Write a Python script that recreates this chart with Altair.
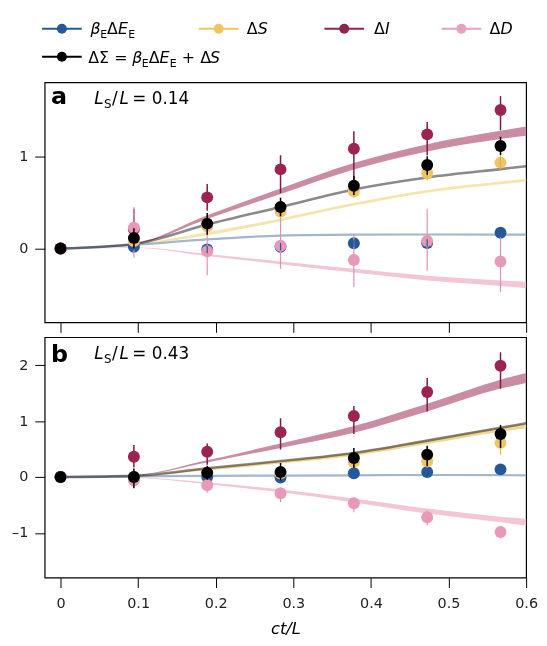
import altair as alt
import pandas as pd

FONT = "DejaVu Sans"

# ---------------- data ----------------
X_PTS = [0.0, 0.0945, 0.189, 0.2835, 0.378, 0.4725, 0.567]
X_MODEL = [0.0, 0.0945, 0.189, 0.2835, 0.378, 0.4725, 0.567, 0.6]
X_TICKS = [0, 0.1, 0.2, 0.3, 0.4, 0.5, 0.6]

# panel a : L_S/L = 0.14
A_BETA = [0.0, 0.02, -0.01, 0.02, 0.057, 0.06, 0.17]
A_BETA_LO = [0.0, -0.02, -0.05, -0.02, 0.02, 0.02, 0.12]
A_BETA_HI = [0.0, 0.06, 0.03, 0.06, 0.095, 0.10, 0.22]
A_DS = [0.0, 0.08, 0.24, 0.40, 0.62, 0.815, 0.93]
A_DS_LO = [0.0, 0.02, 0.17, 0.33, 0.55, 0.74, 0.86]
A_DS_HI = [0.0, 0.14, 0.31, 0.47, 0.69, 0.89, 1.00]
A_DI = [0.0, 0.21, 0.554, 0.857, 1.08, 1.236, 1.50]
A_DI_LO = [0.0, 0.0, 0.41, 0.60, 0.74, 1.01, 1.28]
A_DI_HI = [0.0, 0.43, 0.70, 1.01, 1.27, 1.37, 1.65]
A_DD = [0.0, 0.225, -0.03, 0.03, -0.125, 0.082, -0.14]
A_DD_LO = [0.0, -0.10, -0.29, -0.22, -0.42, -0.24, -0.47]
A_DD_HI = [0.0, 0.45, 0.23, 0.33, 0.16, 0.43, 0.17]
A_SIG = [0.0, 0.115, 0.27, 0.45, 0.68, 0.905, 1.11]
A_SIG_LO = [0.0, 0.0, 0.15, 0.35, 0.58, 0.80, 1.01]
A_SIG_HI = [0.0, 0.22, 0.385, 0.55, 0.785, 1.00, 1.21]

A_BETA_LINE = [0.0, 0.04, 0.10, 0.14, 0.15, 0.152, 0.151, 0.15]
A_SIG_LINE = [0.0, 0.05, 0.26, 0.45, 0.64, 0.77, 0.86, 0.89]
A_DS_BAND_LO = [0.0, 0.035, 0.145, 0.295, 0.465, 0.605, 0.695, 0.725]
A_DS_BAND_HI = [0.0, 0.045, 0.175, 0.325, 0.495, 0.635, 0.725, 0.755]
A_DI_BAND_LO = [0.0, 0.045, 0.32, 0.59, 0.855, 1.05, 1.185, 1.22]
A_DI_BAND_HI = [0.0, 0.055, 0.36, 0.65, 0.925, 1.13, 1.275, 1.32]
A_DD_BAND_LO = [0.0, 0.007, -0.08, -0.17, -0.26, -0.345, -0.405, -0.43]
A_DD_BAND_HI = [0.0, 0.013, -0.06, -0.14, -0.22, -0.295, -0.345, -0.36]

# panel b : L_S/L = 0.43
B_BETA = [0.0, 0.0, 0.0, -0.01, 0.065, 0.088, 0.136]
B_BETA_LO = [0.0, -0.04, -0.04, -0.05, 0.025, 0.05, 0.10]
B_BETA_HI = [0.0, 0.04, 0.04, 0.03, 0.105, 0.125, 0.175]
B_DS = [0.0, 0.0, 0.08, 0.06, 0.265, 0.28, 0.61]
B_DS_LO = [0.0, -0.08, 0.0, -0.03, 0.16, 0.17, 0.40]
B_DS_HI = [0.0, 0.08, 0.16, 0.15, 0.37, 0.39, 0.80]
B_DI = [0.0, 0.36, 0.45, 0.80, 1.09, 1.52, 1.99]
B_DI_LO = [0.0, 0.17, 0.22, 0.49, 0.77, 1.17, 1.58]
B_DI_HI = [0.0, 0.57, 0.60, 1.05, 1.27, 1.77, 2.23]
B_DD = [0.0, -0.06, -0.147, -0.29, -0.47, -0.72, -0.985]
B_DD_LO = [0.0, -0.15, -0.28, -0.45, -0.63, -0.87, -1.10]
B_DD_HI = [0.0, 0.03, -0.03, -0.19, -0.37, -0.60, -0.88]
B_SIG = [0.0, 0.0, 0.077, 0.09, 0.34, 0.40, 0.77]
B_SIG_LO = [0.0, -0.20, -0.05, -0.06, 0.16, 0.19, 0.52]
B_SIG_HI = [0.0, 0.15, 0.20, 0.25, 0.52, 0.56, 0.93]

B_BETA_LINE = [0.0, 0.01, 0.02, 0.025, 0.03, 0.035, 0.032, 0.03]
B_SIG_LINE = [0.0, 0.02, 0.155, 0.285, 0.43, 0.65, 0.88, 0.96]
B_DS_BAND_LO = [0.0, 0.01, 0.12, 0.24, 0.38, 0.59, 0.81, 0.87]
B_DS_BAND_HI = [0.0, 0.02, 0.16, 0.29, 0.44, 0.66, 0.89, 0.96]
B_DI_BAND_LO = [0.0, 0.025, 0.26, 0.52, 0.79, 1.17, 1.58, 1.68]
B_DI_BAND_HI = [0.0, 0.035, 0.30, 0.60, 0.91, 1.31, 1.74, 1.86]
B_DD_BAND_LO = [0.0, -0.013, -0.13, -0.275, -0.455, -0.655, -0.81, -0.87]
B_DD_BAND_HI = [0.0, -0.007, -0.10, -0.225, -0.385, -0.565, -0.71, -0.75]

# ---------------- styling ----------------
C_BLUE, C_BLUE_LINE = "#245899", "#a3b7cb"
C_YEL, C_YEL_BAND_A, C_YEL_BAND_B = "#efc462", "#f4e4ae", "#f0d593"
C_DI, C_DI_BAR, C_DI_BAND = "#9b2452", "#7c1d40", "#c98ca3"
C_DD, C_DD_BAR, C_DD_BAND = "#e899b8", "#dc92b0", "#f2c6d4"
C_SIG_LINE = "#8a8a8a"

W = 486
H_A = 242.4
H_B = 242.7
XDOM = [-0.0205, 0.6]
ONE = pd.DataFrame({"k": [0]})


def txt(s, x, y, size, italic=False, bold=False):
    kw = dict(text=s, font=FONT, fontSize=size, align="left",
              baseline="alphabetic", color="black")
    if italic:
        kw["fontStyle"] = "italic"
    if bold:
        kw["fontWeight"] = "bold"
    return alt.Chart(ONE).mark_text(**kw).encode(x=alt.value(x), y=alt.value(y))


def panel(p, ydom, yvals, bottom, letter, ratio, letter_y, yel_band_color, h):
    xaxis = alt.Axis(values=X_TICKS, labels=bottom, labelFlush=False, format=".1~f",
                     title="ct/L" if bottom else None, titleFontStyle="italic",
                     titleFontWeight="normal", titleFontSize=16.5, titlePadding=11,
                     tickSize=10, labelPadding=9, domain=False, grid=False)
    yaxis = alt.Axis(values=yvals, title=None, tickSize=10, labelPadding=7,
                     domain=False, grid=False,
                     labelExpr="datum.value < 0 ? '\u2013' + abs(datum.value) : datum.label")
    X = alt.X("x:Q", scale=alt.Scale(domain=XDOM, nice=False, zero=False), axis=xaxis)
    ys = alt.Scale(domain=ydom, nice=False, zero=False)

    def Y(f):
        return alt.Y(f"{f}:Q", scale=ys, axis=yaxis)

    model = pd.DataFrame({
        "x": X_MODEL,
        "beta": p["beta_line"], "sig": p["sig_line"],
        "ds_lo": p["ds_band"][0], "ds_hi": p["ds_band"][1],
        "di_lo": p["di_band"][0], "di_hi": p["di_band"][1],
        "dd_lo": p["dd_band"][0], "dd_hi": p["dd_band"][1],
    })
    base = alt.Chart(model)
    layers = [
        base.mark_area(color=C_DD_BAND, interpolate="monotone").encode(x=X, y=Y("dd_lo"), y2="dd_hi"),
        base.mark_area(color=C_DI_BAND, interpolate="monotone").encode(x=X, y=Y("di_lo"), y2="di_hi"),
        base.mark_area(color=yel_band_color, interpolate="monotone").encode(x=X, y=Y("ds_lo"), y2="ds_hi"),
        base.mark_line(color=C_BLUE_LINE, strokeWidth=2.2, interpolate="monotone").encode(x=X, y=Y("beta")),
        base.mark_line(color=C_SIG_LINE, strokeWidth=2.6, interpolate="monotone",
                       blend="multiply").encode(x=X, y=Y("sig")),
    ]

    def pts(key):
        v, lo, hi = p[key]
        return alt.Chart(pd.DataFrame({"x": X_PTS, "v": v, "lo": lo, "hi": hi}))

    def dots(key, color):
        return pts(key).mark_circle(size=145, opacity=1, color=color).encode(x=X, y=Y("v"))

    def bars(key, color, w):
        return pts(key).mark_rule(color=color, strokeWidth=w).encode(x=X, y=Y("lo"), y2="hi")

    layers += [
        dots("beta", C_BLUE),
        dots("ds", C_YEL),
        bars("di", C_DI_BAR, 1.5),
        dots("di", C_DI),
        bars("dd", C_DD_BAR, 1.2),
        dots("dd", C_DD),
        bars("beta", C_BLUE, 1.2),
        bars("ds", "#e2b24a", 1.2),
        bars("sig", "black", 1.5),
        dots("sig", "black"),
    ]
    # panel label and L_S/L annotation
    layers += [
        txt(letter, 6.5, letter_y, 24, bold=True),
        txt("L", 50, 21.7, 17, italic=True),
        txt("S", 60, 26.2, 12),
        txt("/", 68, 21.7, 17),
        txt("L", 75.5, 21.7, 17, italic=True),
        txt("= " + ratio, 88.5, 21.7, 17),
    ]
    return alt.layer(*layers).properties(width=W, height=h)


PA = {
    "beta": (A_BETA, A_BETA_LO, A_BETA_HI), "ds": (A_DS, A_DS_LO, A_DS_HI),
    "di": (A_DI, A_DI_LO, A_DI_HI), "dd": (A_DD, A_DD_LO, A_DD_HI),
    "sig": (A_SIG, A_SIG_LO, A_SIG_HI),
    "beta_line": A_BETA_LINE, "sig_line": A_SIG_LINE,
    "ds_band": (A_DS_BAND_LO, A_DS_BAND_HI), "di_band": (A_DI_BAND_LO, A_DI_BAND_HI),
    "dd_band": (A_DD_BAND_LO, A_DD_BAND_HI),
}
PB = {
    "beta": (B_BETA, B_BETA_LO, B_BETA_HI), "ds": (B_DS, B_DS_LO, B_DS_HI),
    "di": (B_DI, B_DI_LO, B_DI_HI), "dd": (B_DD, B_DD_LO, B_DD_HI),
    "sig": (B_SIG, B_SIG_LO, B_SIG_HI),
    "beta_line": B_BETA_LINE, "sig_line": B_SIG_LINE,
    "ds_band": (B_DS_BAND_LO, B_DS_BAND_HI), "di_band": (B_DI_BAND_LO, B_DI_BAND_HI),
    "dd_band": (B_DD_BAND_LO, B_DD_BAND_HI),
}

panel_a = panel(PA, [-0.80, 1.80], [0, 1], False, "a", "0.14", 21.7, C_YEL_BAND_A, H_A)
panel_b = panel(PB, [-1.80, 2.50], [-1, 0, 1, 2], True, "b", "0.43", 25, C_YEL_BAND_B, H_B)

# ---------------- manual legend ----------------
R1, R2 = 17, 45.3
T1, T2 = 22.7, 52
leg = []
for color, x0, yy in [(C_BLUE, -2.6, R1), (C_YEL, 155.7, R1), ("#8e2550", 282.4, R1),
                      ("#e8a0bd", 400.7, R1), ("black", -2.6, R2)]:
    leg.append(alt.Chart(ONE).mark_rule(color=color, strokeWidth=2).encode(
        x=alt.value(x0), x2=alt.value(x0 + 40), y=alt.value(yy)))
    leg.append(alt.Chart(ONE).mark_circle(color=color, size=100, opacity=1).encode(
        x=alt.value(x0 + 20), y=alt.value(yy)))
leg += [
    txt("\u03b2", 46.4, T1, 16, italic=True), txt("E", 56, T1 + 4, 11),
    txt("\u0394", 63, T1, 16), txt("E", 74, T1, 16, italic=True), txt("E", 84.5, T1 + 4, 11),
    txt("\u0394", 204, T1, 16), txt("S", 215, T1, 16, italic=True),
    txt("\u0394", 332.4, T1, 16), txt("I", 343.6, T1, 16, italic=True),
    txt("\u0394", 449, T1, 16), txt("D", 460.2, T1, 16, italic=True),
    txt("\u0394\u03a3 =", 44, T2, 16),
    txt("\u03b2", 88.5, T2, 16, italic=True), txt("E", 98.1, T2 + 4, 11),
    txt("\u0394", 105, T2, 16), txt("E", 115.9, T2, 16, italic=True), txt("E", 126.2, T2 + 4, 11),
    txt("+ \u0394", 138.5, T2, 16), txt("S", 167, T2, 16, italic=True),
]
legend = alt.layer(*leg).properties(width=W, height=70.3,
                                    view=alt.ViewBackground(stroke="transparent"))

inner = alt.vconcat(panel_a, panel_b, spacing=14.3, bounds="flush").resolve_scale(y="independent")
chart = alt.vconcat(legend, inner, spacing=0, bounds="flush").properties(
    padding={"left": 2, "top": 0, "right": 0, "bottom": 0}
).configure_view(stroke="black", strokeWidth=1.2).configure_axis(
    labelFont=FONT, labelFontSize=14.5, labelColor="#222", tickColor="black",
    tickWidth=1, titleFont=FONT, titleColor="black"
)

chart.save("out.html", embed_options={"renderer": "svg", "actions": False})
